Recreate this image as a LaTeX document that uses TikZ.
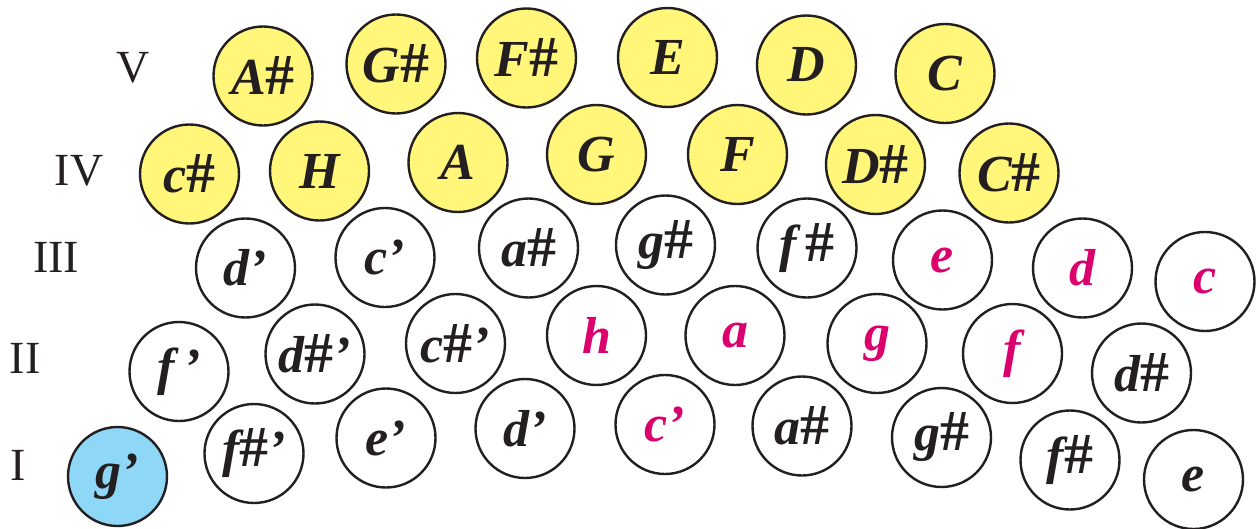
\documentclass[tikz,border=0pt]{standalone}
\usepackage{fontspec}
\setmainfont{Liberation Serif}
\usepackage{xcolor}
\definecolor{KeyYellow}{HTML}{FFF67A}
\definecolor{KeyBlue}{HTML}{8FD7F7}
\definecolor{NotePink}{HTML}{DC006E}
\definecolor{DarkText}{HTML}{231F20}
\newcommand{\shp}{{\upshape\fontsize{58}{60}\selectfont\#}}
\tikzset{
  key/.style={circle, draw=DarkText, line width=2.4pt, fill=white, minimum size=99pt, inner sep=0pt, text=DarkText, font=\fontsize{52}{56}\selectfont\bfseries\itshape},
  yellowkey/.style={key, fill=KeyYellow},
  bluekey/.style={key, fill=KeyBlue},
  pink/.style={text=NotePink},
  blk/.style={},
  rowlabel/.style={text=DarkText, inner sep=0pt, font=\fontsize{46}{50}\selectfont}
}
\begin{document}
\begin{tikzpicture}[x=1pt,y=-1pt]
\useasboundingbox (0,0) rectangle (1259,528);
% row labels
\node[rowlabel] (rV) at (133,68) {V};
\node[rowlabel] (rIV) at (79,171) {IV};
\node[rowlabel] (rIII) at (56,257) {III};
\node[rowlabel] (rII) at (25,358) {II};
\node[rowlabel] (rI) at (18,465) {I};
% row V
\foreach \lab/\px/\py [count=\i] in {A\shp/263/76, G\shp/396/64, F\shp/526.5/58, E/667.5/57.5, D/806.5/65, C/945/73.5}
  {\node[yellowkey] (v\i) at (\px,\py) {\lab};}
% row IV
\foreach \lab/\px/\py [count=\i] in {c\shp/189.5/174, H/319.5/171, A/458/162.5, G/596.5/154.5, F/737.5/154.5, D\shp/875.5/164.5, C\shp/1009/173}
  {\node[yellowkey] (iv\i) at (\px,\py) {\lab};}
% row III
\foreach \lab/\px/\py/\sty [count=\i] in {d’/245.5/268/blk, c’/385/257.5/blk, a\shp/528.5/248/blk, g\shp/665.5/245/blk, f\,\shp/807/248/blk, e/942.5/260/pink, d/1082.5/268/pink, c/1205/281.5/pink}
  {\node[key,\sty] (iii\i) at (\px,\py) {\lab};}
% row II
\foreach \lab/\px/\py/\sty [count=\i] in {f\,’/179/371.5/blk, d\shp’/315/354/blk, c\shp’/455.5/343.5/blk, h/596.5/335.5/pink, a/735/335.5/pink, g/877/343.5/pink, f/1012.5/353.5/pink, d\shp/1141.5/373/blk}
  {\node[key,\sty] (ii\i) at (\px,\py) {\lab};}
% row I
\node[bluekey] (i1) at (117.5,476.5) {g’};
\foreach \lab/\px/\py/\sty [count=\i from 2] in {f\shp’/254/453.5/blk, e’/386/438/blk, d’/525/428.5/blk, c’/665/424.5/pink, a\shp/802/426/blk, g\shp/941.5/437.5/blk, f\shp/1070/460/blk, e/1193.5/479.5/blk}
  {\node[key,\sty] (i\i) at (\px,\py) {\lab};}
\end{tikzpicture}
\end{document}
